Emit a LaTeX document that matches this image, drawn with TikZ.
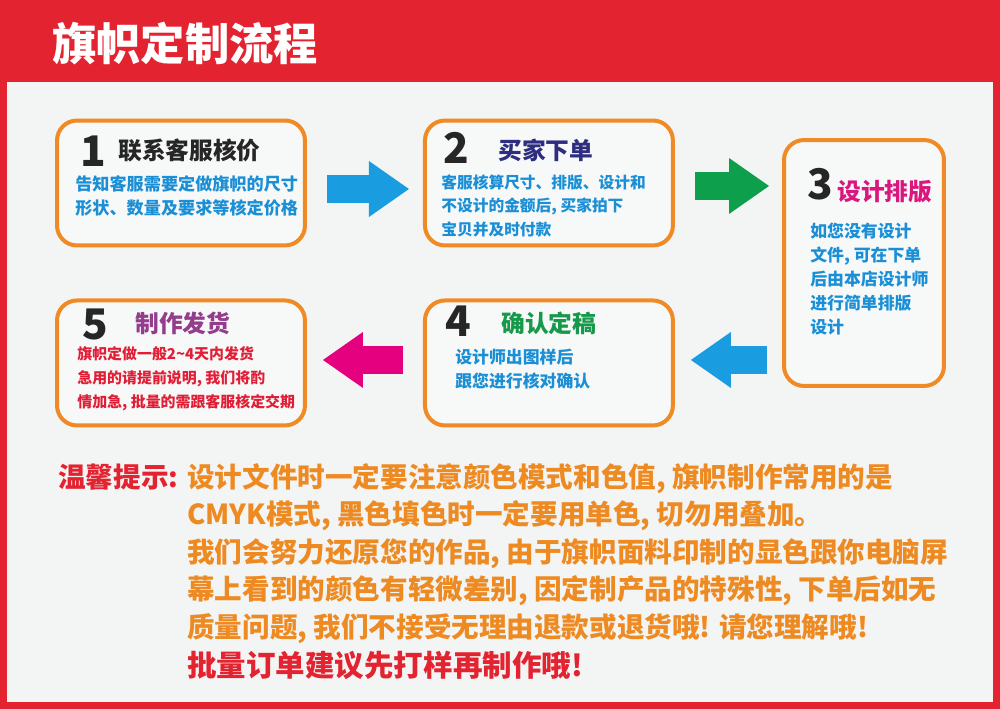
\documentclass[tikz,border=0pt]{standalone}
\usepackage{fontspec}
\setmainfont{Noto Sans CJK SC}
\usepackage{tikz}
\usetikzlibrary{positioning,calc,arrows.meta}

\definecolor{frameRed}{HTML}{E42330}
\definecolor{panelGray}{HTML}{F3F4F4}
\definecolor{boxFill}{HTML}{F7F8F8}
\definecolor{boxOrange}{HTML}{F08A24}
\definecolor{bodyBlue}{HTML}{1B8FD6}
\definecolor{titleNavy}{HTML}{2E2E80}
\definecolor{titleMagenta}{HTML}{D9177F}
\definecolor{titlePurple}{HTML}{933D8C}
\definecolor{titleGreen}{HTML}{16994A}
\definecolor{bodyRed}{HTML}{E11E36}
\definecolor{arrowCyan}{HTML}{1A9DE0}
\definecolor{arrowGreen}{HTML}{0E9F4D}
\definecolor{arrowMagenta}{HTML}{E4007F}
\definecolor{noteOrange}{HTML}{EE8A22}

\begin{document}
\begin{tikzpicture}[
    x=0.02cm, y=-0.02cm,
    stepbox/.style={
      draw=boxOrange,
      fill=boxFill,
      line width=0.08cm,
      rounded corners=0.4cm,
      inner sep=0pt,
      minimum width=4.96cm,
      minimum height=2.5cm,
    },
    bignum/.style={font=\fontsize{24}{24}\selectfont\bfseries, text=black!85, inner sep=0pt, anchor=west},
    steptitle/.style={font=\fontsize{13.5}{14}\selectfont\bfseries, inner sep=0pt, anchor=west},
    stepbody/.style={font=\fontsize{#1}{13.6}\selectfont\bfseries, inner sep=0pt, anchor=north west, align=left},
    stepbody/.default=9.4,
    fatarrow/.style={line width=0.56cm, -{Triangle[length=0.8cm, width=1.12cm, line width=0pt]}},
  ]
    \useasboundingbox (0,0) rectangle (1000,709);

    % frame and title bar
    \fill[frameRed] (0,0) rectangle (1000,709);
    \fill[panelGray] (7,82) rectangle (993,702);
    \node[anchor=west, inner sep=0pt, text=white, font=\fontsize{25.2}{26}\selectfont\bfseries] (title) at (52,44) {旗帜定制流程};

    % the five steps
    \node[stepbox] (box1) at (181,183) {};
    \node[stepbox, right=2.32cm of box1] (box2) {};
    \node[stepbox, minimum width=3.2cm, minimum height=4.92cm] (box3) at (864,263) {};
    \node[stepbox, below=1.02cm of box2] (box4) {};
    \node[stepbox, below=1.02cm of box1] (box5) {};

    \node[bignum] (num1) at (80,151) {1};
    \node[steptitle, text=black!85] (head1) at (118,150) {联系客服核价};
    \node[stepbody=9.75, text=bodyBlue] (text1) at (75,175) {告知客服需要定做旗帜的尺寸\\形状、数量及要求等核定价格};

    \node[bignum] (num2) at (443,148) {2};
    \node[steptitle, text=titleNavy] (head2) at (498,150) {买家下单};
    \node[stepbody=8.95, text=bodyBlue] (text2) at (441,174) {客服核算尺寸、排版、设计和\\不设计的金额后, 买家拍下\\宝贝并及时付款};

    \node[bignum] (num3) at (807,184) {3};
    \node[steptitle, text=titleMagenta] (head3) at (837,192) {设计排版};
    \node[stepbody=9.6, text=bodyBlue] (text3) at (810,223) {如您没有设计\\文件, 可在下单\\后由本店设计师\\进行简单排版\\设计};

    \node[bignum] (num4) at (445,321) {4};
    \node[steptitle, text=titleGreen] (head4) at (501,323) {确认定稿};
    \node[stepbody=9.6, text=bodyBlue] (text4) at (455,349) {设计师出图样后\\跟您进行核对确认};

    \node[bignum] (num5) at (82,324) {5};
    \node[steptitle, text=titlePurple] (head5) at (135,323) {制作发货};
    \node[stepbody=8.5, text=bodyRed] (text5) at (77,346) {旗帜定做一般2\textasciitilde4天内发货\\急用的请提前说明, 我们将酌\\情加急, 批量的需跟客服核定交期};

    % 1 -> 2 -> 3 [right]
    \draw[fatarrow, arrowCyan] ($(box1.east)+(20,6)$) -- ($(box2.west)+(-14,6)$);
    \draw[fatarrow, arrowGreen] ($(box2.east)+(20,3)$) -- ($(box3.west |- box2.east)+(-13,3)$);
    % 3 -> 4 -> 5 [left]
    \draw[fatarrow, arrowCyan] ($(box3.west |- box4.east)+(-15,-3)$) -- ($(box4.east)+(16,-3)$);
    \draw[fatarrow, arrowMagenta] ($(box4.west)+(-20,-3)$) -- ($(box5.east)+(16,-3)$);

    % notes
    \node[anchor=west, inner sep=0pt, text=frameRed, font=\fontsize{15.7}{21.3}\selectfont\bfseries] (hint) at (58,477) {温馨提示:};
    \node[anchor=north west, inner sep=0pt, align=left, text=noteOrange, font=\fontsize{15.7}{21.3}\selectfont\bfseries] (notes) at (187,463) {设计文件时一定要注意颜色模式和色值, 旗帜制作常用的是\\CMYK模式, 黑色填色时一定要用单色, 切勿用叠加。\\我们会努力还原您的作品, 由于旗帜面料印制的显色跟你电脑屏\\幕上看到的颜色有轻微差别, 因定制产品的特殊性, 下单后如无\\质量问题, 我们不接受无理由退款或退货哦! 请您理解哦!};
    \node[anchor=west, inner sep=0pt, text=frameRed, font=\fontsize{16.8}{20}\selectfont\bfseries] (advice) at (187,665) {批量订单建议先打样再制作哦!};
  \end{tikzpicture}
\end{document}
